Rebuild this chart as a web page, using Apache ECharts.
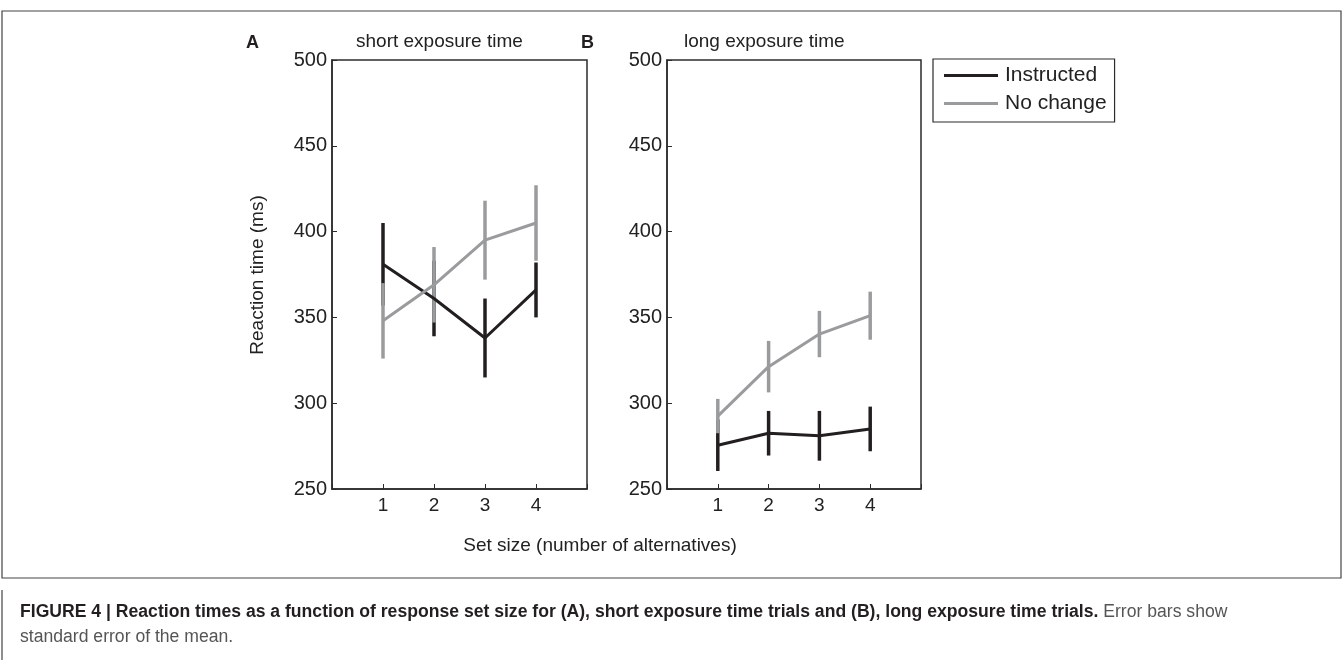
<!DOCTYPE html>
<html>
<head>
<meta charset="utf-8">
<script src="https://cdn.jsdelivr.net/npm/echarts@6/dist/echarts.min.js"></script>
<style>
  html, body { margin: 0; padding: 0; background: #fff; }
  #chart { width: 1344px; height: 660px; }
</style>
</head>
<body>
<div id="chart"></div>
<script>
// ---- data ----
var setSizes = [1, 2, 3, 4];
var xTickLabels = ['1', '2', '3', '4'];
var yTicks = [250, 300, 350, 400, 450, 500];

var shortInstructed = [381, 361, 338, 366];
var shortInstructedErr = [24, 22, 23, 16];
var shortNoChange = [348, 369, 395, 405];
var shortNoChangeErr = [22, 22, 23, 22];

var longInstructed = [275.5, 282.5, 281, 285];
var longInstructedErr = [15, 13, 14.5, 13];
var longNoChange = [292.5, 321.3, 340.3, 351];
var longNoChangeErr = [10, 15, 13.5, 14];

var panelTitles = ['short exposure time', 'long exposure time'];
var panelLetters = ['A', 'B'];
var seriesNames = ['Instructed', 'No change'];

// ---- style ----
var BLACK = '#231f20';
var GRAY = '#9a9b9d';
var AXIS = '#2b2b2b';
var FONT = "'Liberation Sans', Arial, Helvetica, sans-serif";

function pairs(xs, ys) { return xs.map(function (x, i) { return [x, ys[i]]; }); }
function errData(xs, ys, es) { return xs.map(function (x, i) { return [x, ys[i], es[i]]; }); }

function errRender(color) {
  return function (params, api) {
    var x = api.value(0), m = api.value(1), e = api.value(2);
    var top = api.coord([x, m + e]);
    var bot = api.coord([x, m - e]);
    return {
      type: 'line',
      shape: { x1: top[0], y1: top[1], x2: bot[0], y2: bot[1] },
      style: { stroke: color, lineWidth: 3.5 }
    };
  };
}

function lineSeries(name, color, data, idx) {
  return {
    name: name, type: 'line', data: data, xAxisIndex: idx, yAxisIndex: idx,
    symbol: 'none', color: color,
    lineStyle: { color: color, width: 3 }, itemStyle: { color: color },
    silent: true, z: 2
  };
}
function errSeries(name, color, data, idx) {
  return {
    name: name, type: 'custom', data: data, xAxisIndex: idx, yAxisIndex: idx,
    renderItem: errRender(color), encode: { x: 0, y: 1 }, silent: true, z: 2
  };
}

var grids = [
  { left: 332, top: 60, width: 255, height: 429 },
  { left: 667, top: 60, width: 254, height: 429 }
].map(function (g) {
  return Object.assign(g, { show: true, borderColor: AXIS, borderWidth: 1.5, backgroundColor: 'transparent' });
});

function xAxis(idx) {
  return {
    type: 'value', gridIndex: idx, min: 0, max: 5, interval: 1,
    axisLine: { lineStyle: { color: AXIS, width: 1.5 } },
    axisTick: { inside: true, length: 5, lineStyle: { color: AXIS, width: 1 } },
    splitLine: { show: false },
    axisLabel: {
      color: '#222', fontSize: 19, fontFamily: FONT, margin: 7,
      formatter: function (v) { var i = setSizes.indexOf(v); return i >= 0 ? xTickLabels[i] : ''; }
    }
  };
}
function yAxis(idx) {
  return {
    type: 'value', gridIndex: idx, min: yTicks[0], max: yTicks[yTicks.length - 1], interval: 50,
    axisLine: { show: true, lineStyle: { color: AXIS, width: 1.5 } },
    axisTick: { show: true, inside: true, length: 5, lineStyle: { color: AXIS, width: 1 } },
    splitLine: { show: false },
    axisLabel: { color: '#222', fontSize: 20, fontFamily: FONT, margin: 5 }
  };
}

var option = {
  animation: false,
  backgroundColor: '#fff',
  grid: grids,
  xAxis: [xAxis(0), xAxis(1)],
  yAxis: [yAxis(0), yAxis(1)],
  legend: {
    data: seriesNames,
    orient: 'vertical',
    left: 933, top: 59,
    icon: 'rect', itemWidth: 54, itemHeight: 3, itemGap: 7,
    padding: [6, 8, 8, 11],
    borderColor: AXIS, borderWidth: 1.2,
    textStyle: { fontSize: 21, fontFamily: FONT, color: '#222', padding: [0, 0, 0, 2] },
    selectedMode: false
  },
  series: [
    lineSeries(seriesNames[0], BLACK, pairs(setSizes, shortInstructed), 0),
    errSeries('Instructed SE A', BLACK, errData(setSizes, shortInstructed, shortInstructedErr), 0),
    lineSeries(seriesNames[1], GRAY, pairs(setSizes, shortNoChange), 0),
    errSeries('No change SE A', GRAY, errData(setSizes, shortNoChange, shortNoChangeErr), 0),
    lineSeries(seriesNames[0], BLACK, pairs(setSizes, longInstructed), 1),
    errSeries('Instructed SE B', BLACK, errData(setSizes, longInstructed, longInstructedErr), 1),
    lineSeries(seriesNames[1], GRAY, pairs(setSizes, longNoChange), 1),
    errSeries('No change SE B', GRAY, errData(setSizes, longNoChange, longNoChangeErr), 1)
  ],
  graphic: [
    // figure frame
    { type: 'rect', shape: { x: 2, y: 11, width: 1339, height: 567 }, style: { fill: 'none', stroke: '#444', lineWidth: 1.2 }, silent: true },
    { type: 'line', shape: { x1: 2, y1: 590, x2: 2, y2: 660 }, style: { stroke: '#444', lineWidth: 1.2 }, silent: true },
    // panel letters
    { type: 'text', left: 246, top: 34, style: { text: panelLetters[0], font: 'bold 18px ' + FONT, fill: BLACK } },
    { type: 'text', left: 581, top: 34, style: { text: panelLetters[1], font: 'bold 18px ' + FONT, fill: BLACK } },
    // panel titles
    { type: 'text', left: 356, top: 32, style: { text: panelTitles[0], font: '19px ' + FONT, fill: '#222' } },
    { type: 'text', left: 684, top: 32, style: { text: panelTitles[1], font: '19px ' + FONT, fill: '#222' } },
    // y axis title
    { type: 'text', x: 258, y: 275, rotation: Math.PI / 2, style: { text: 'Reaction time (ms)', font: '19px ' + FONT, fill: '#222', align: 'center', verticalAlign: 'middle' } },
    // x axis title
    { type: 'text', x: 600, y: 546, style: { text: 'Set size (number of alternatives)', font: '19px ' + FONT, fill: '#222', align: 'center', verticalAlign: 'middle' } },
    // caption
    { type: 'text', x: 20, y: 612, style: {
        text: '{b|FIGURE 4 | Reaction times as a function of response set size for (A), short exposure time trials and (B), long exposure time trials.}{n| Error bars show}',
        verticalAlign: 'middle',
        rich: {
          b: { font: 'bold 17.6px ' + FONT, fill: BLACK },
          n: { font: '17.6px ' + FONT, fill: '#555' }
        }
      } },
    { type: 'text', x: 20, y: 637, style: { text: 'standard error of the mean.', font: '17.6px ' + FONT, fill: '#555', verticalAlign: 'middle' } }
  ]
};

var chart = echarts.init(document.getElementById('chart'), null, { renderer: 'canvas' });
chart.setOption(option);
</script>
</body>
</html>
